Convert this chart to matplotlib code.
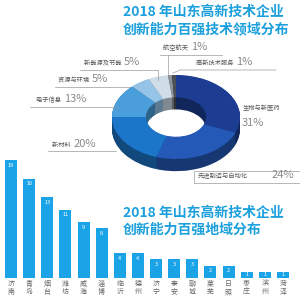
import matplotlib
matplotlib.use("Agg")
import matplotlib.pyplot as plt
from matplotlib.patches import Rectangle
import numpy as np

plt.rcParams['font.family'] = ['Noto Sans CJK SC', 'DejaVu Sans']

# ---- data ----
fields = ['生物与新医药', '先进制造与自动化', '新材料', '电子信息',
          '资源与环境', '新能源及节能', '航空航天', '高新技术服务']
field_pct = [31, 24, 20, 13, 5, 5, 1, 1]

cities = ['济南', '青岛', '烟台', '潍坊', '威海', '淄博', '临沂', '德州',
          '济宁', '泰安', '聊城', '莱芜', '日照', '枣庄', '滨州', '菏泽']
city_count = [19, 16, 13, 11, 9, 8, 4, 4, 3, 3, 3, 2, 2, 1, 1, 1]

title1 = ['2018 年山东高新技术企业', '创新能力百强技术领域分布']
title2 = ['2018 年山东高新技术企业', '创新能力百强地域分布']

top_cols = ['#1c3d92', '#2459b8', '#1b76ca', '#4a9edb',
            '#95c4e6', '#cfdde9', '#8d9299', '#4b4f56']
blue = '#1aa3e6'
title_col = '#1ba0dd'
grey = '#666666'

fig = plt.figure(figsize=(3, 3), dpi=100)
fig.patch.set_facecolor('white')


def px(x, y):
    return x / 300.0, 1 - y / 300.0


# ---- titles ----
for i, s in enumerate(title1):
    fig.text(*px(123, 12 + 17 * i), s, color=title_col, fontsize=10,
             fontweight='bold', va='center', ha='left')
for i, s in enumerate(title2):
    fig.text(*px(123, 213 + 17 * i), s, color=title_col, fontsize=10,
             fontweight='bold', va='center', ha='left')

# ---- bar chart ----
ax2 = fig.add_axes([0, 22 / 300, 1, 124 / 300])
xs = np.arange(len(cities))
ax2.bar(xs, city_count, width=0.66, color=blue)
for x, v in zip(xs, city_count):
    yy = v - 0.8 if v > 1 else 0.5
    ax2.text(x, yy, str(v), color='white', fontsize=4, ha='center',
             va='center')
    ax2.text(x, -0.9, v and cities[x][0], color=grey, fontsize=5,
             ha='center', va='center')
    ax2.text(x, -2.3, cities[x][1], color=grey, fontsize=5,
             ha='center', va='center')
ax2.set_xlim(-0.607, 15.94)
ax2.set_ylim(0, 20)
ax2.axis('off')

# ---- 3D donut ----
ax = fig.add_axes([0, 0, 1, 1], zorder=3)
ax.patch.set_alpha(0)


def darker(c, f=0.62):
    r, g, b = matplotlib.colors.to_rgb(c)
    return (r * f, g * f, b * f)


side_cols = [darker(c) for c in top_cols]
thick = 0.29
for d in np.linspace(thick, 0.01, 15):
    ax.pie(field_pct, radius=1, startangle=90, counterclock=False,
           colors=side_cols, center=(0, -d),
           wedgeprops=dict(width=0.53, linewidth=0))
ax.pie(field_pct, radius=1, startangle=90, counterclock=False,
       colors=top_cols, center=(0, 0),
       wedgeprops=dict(width=0.53, linewidth=0))
ax.set_aspect('auto')
ax.set_xlim(-176 / 64, (300 - 176) / 64)
ax.set_ylim((117 - 300) / 42, 117 / 42)
ax.axis('off')

# ---- donut labels ----
lc = '#9a9a9a'
tc = '#555555'


def label(x0, y0, name, pct, x1, line_pts):
    fig.text(*px(x0, y0), name + ' ', fontsize=4.5, color=tc, va='center',
             ha='left', zorder=5)
    t = fig.text(*px(x0 + 6.2 * len(name) + 3, y0 - 1), pct, fontsize=8,
                 color='#8a8a8a', va='center', ha='left', zorder=5)
    xs_ = [p[0] / 300 for p in line_pts]
    ys_ = [1 - p[1] / 300 for p in line_pts]
    fig.add_artist(plt.Line2D(xs_, ys_, color=lc, lw=0.5, zorder=4))


label(163, 48, fields[6], '1%', 0, [(160, 55), (222, 55)])
fig.add_artist(plt.Line2D([168 / 300, 168 / 300], [1 - 55 / 300, 1 - 75 / 300],
                          color=lc, lw=0.5))
label(196, 63, fields[7], '1%', 0, [(173, 73), (180, 70), (276, 70)])
label(84, 63, fields[5], '5%', 0, [(80, 70), (158, 70), (158, 80)])
label(58, 80, fields[4], '5%', 0, [(55, 87), (130, 87)])
label(36, 100, fields[3], '13%', 0, [(30, 107), (118, 107)])
label(52, 145, fields[2], '20%', 0, [(48, 151), (116, 151)])

fig.text(*px(243, 108), fields[0], fontsize=4.5, color=tc, va='center',
         ha='left')
fig.text(*px(242, 123), '31%', fontsize=8, color='#8a8a8a', va='center',
         ha='left')

fig.text(*px(198, 176), fields[1], fontsize=4.5, color=tc, va='center',
         ha='left')
fig.text(*px(272, 175), '24%', fontsize=8, color='#8a8a8a', va='center',
         ha='left')
fig.add_artist(Rectangle(px(194, 183), 110 / 300, 12 / 300,
                         transform=fig.transFigure, fill=False,
                         edgecolor=lc, lw=0.5))

fig.savefig('out.png', dpi=100)
